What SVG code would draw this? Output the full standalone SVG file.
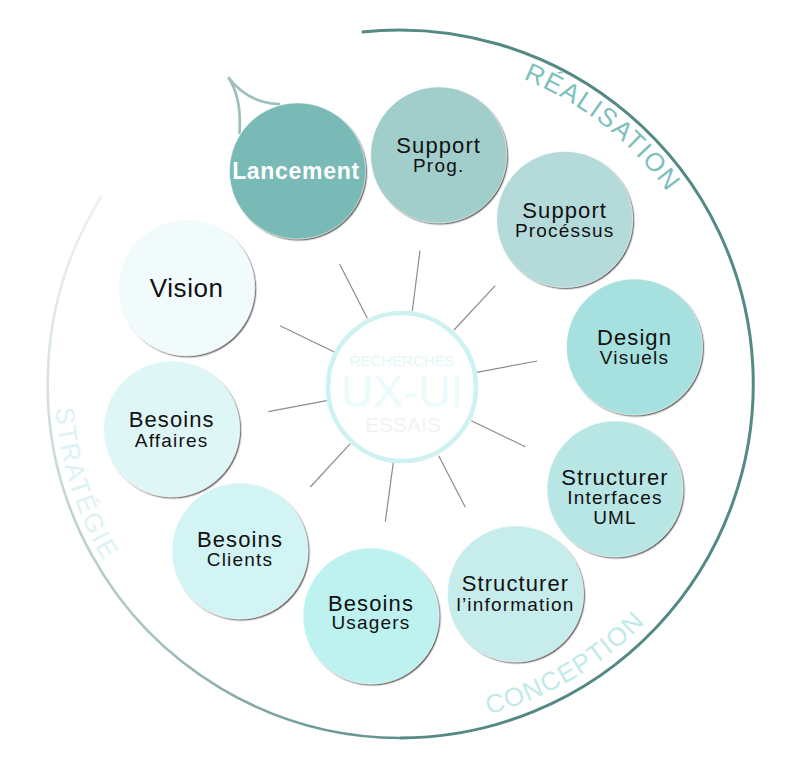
<svg xmlns="http://www.w3.org/2000/svg" xmlns:xlink="http://www.w3.org/1999/xlink" width="800" height="762" viewBox="0 0 800 762">
<style>
.nc{filter:url(#sh);stroke:#ffffff;stroke-opacity:.5;stroke-width:1}
.t1{font-family:"Liberation Sans",Arial,sans-serif;font-size:22px;letter-spacing:1.1px;text-anchor:middle;fill:#111}
.t2{font-family:"Liberation Sans",Arial,sans-serif;font-size:19px;letter-spacing:1.2px;text-anchor:middle;fill:#111}
.ray{stroke:#8c8c8c;stroke-width:1.2;fill:none}
.ring{font-family:"Liberation Sans",Arial,sans-serif;font-size:26px}
</style>
<defs>
<filter id="sh" x="-10%" y="-10%" width="125%" height="125%">
<feDropShadow dx="1.3" dy="1.3" stdDeviation="0.7" flood-color="#333" flood-opacity="0.75"/>
</filter>
<linearGradient id="lg" gradientUnits="userSpaceOnUse" x1="400" y1="740" x2="95" y2="200">
<stop offset="0" stop-color="#5e908c"/>
<stop offset="0.35" stop-color="#aac4c3"/>
<stop offset="1" stop-color="#ecf1f1"/>
</linearGradient>
<path id="pReal" d="M523.2,79 A329,329 0 0 1 698.2,244.9"/>
<path id="pConc" d="M488.5,714.3 A342,342 0 0 0 680.2,580.2"/>
<path id="pStrat" d="M55.8,408.1 A345,345 0 0 0 135.7,605.8"/>
</defs>

<g id="outer-ring">
<path d="M361.7,32 A354,354 0 1 1 400,738" fill="none" stroke="#558985" stroke-width="3"/>
<path d="M400,738 A354,354 0 0 1 101.7,196" fill="none" stroke="url(#lg)" stroke-width="2.6"/>
<text class="ring" fill="#7cbfbb" letter-spacing="1.5"><textPath xlink:href="#pReal" href="#pReal">RÉALISATION</textPath></text>
<text class="ring" fill="#c0eaea" letter-spacing="1.1"><textPath xlink:href="#pConc" href="#pConc">CONCEPTION</textPath></text>
<text class="ring" fill="#dcf2f2" letter-spacing="2"><textPath xlink:href="#pStrat" href="#pStrat">STRATÉGIE</textPath></text>
</g>

<g id="connectors">
<line class="ray" x1="339.7" y1="264.3" x2="367.3" y2="318.3"/>
<line class="ray" x1="420" y1="250.7" x2="412.3" y2="311"/>
<line class="ray" x1="495.3" y1="285.7" x2="454" y2="330"/>
<line class="ray" x1="537.3" y1="361" x2="476.7" y2="372.3"/>
<line class="ray" x1="525.3" y1="446.7" x2="471.3" y2="420.7"/>
<line class="ray" x1="465.3" y1="507.3" x2="438.7" y2="455.7"/>
<line class="ray" x1="385.3" y1="521.7" x2="393.3" y2="462.7"/>
<line class="ray" x1="310.3" y1="487" x2="350.3" y2="443.7"/>
<line class="ray" x1="268.3" y1="411.7" x2="326.7" y2="400.7"/>
<line class="ray" x1="280" y1="325.7" x2="334.3" y2="352"/>
</g>

<g id="center">
<circle cx="402" cy="387" r="74" fill="#ffffff" stroke="#cdf2f1" stroke-width="4.5"/>
<text x="402" y="365.7" font-family="Liberation Sans,Arial,sans-serif" font-size="15" text-anchor="middle" fill="#e3f7f7">RECHERCHES</text>
<text x="402" y="406.7" font-family="Liberation Sans,Arial,sans-serif" font-size="45" text-anchor="middle" fill="#eafbfb">UX-UI</text>
<text x="403" y="431.7" font-family="Liberation Sans,Arial,sans-serif" font-size="21" text-anchor="middle" fill="#f2f2f2">ESSAIS</text>
</g>

<g id="lancement">
<path d="M239.5,133 C241,111 238,92 228.3,77.3 C240,93 255,103 279,104" fill="none" stroke="#9fbfbe" stroke-width="2.7" stroke-linecap="round"/>
<circle class="nc" cx="297.5" cy="171" r="68" fill="#79b9b6"/>
<text x="296" y="178.5" font-family="Liberation Sans,Arial,sans-serif" font-size="23" font-weight="bold" letter-spacing="0.7" text-anchor="middle" fill="#ffffff">Lancement</text>
</g>

<g id="support-prog">
<circle class="nc" cx="438.7" cy="155" r="68" fill="#a1cdcb"/>
<text class="t1" x="438.7" y="153.3">Support</text>
<text class="t2" x="438.7" y="171.7">Prog.</text>
</g>

<g id="support-processus">
<circle class="nc" cx="564.7" cy="219.5" r="68" fill="#b4dad9"/>
<text class="t1" x="564.7" y="217.7">Support</text>
<text class="t2" x="564.7" y="237.3">Procéssus</text>
</g>

<g id="design-visuels">
<circle class="nc" cx="634.5" cy="347" r="68" fill="#a6e1df"/>
<text class="t1" x="634.5" y="345">Design</text>
<text class="t2" x="634.5" y="363.5">Visuels</text>
</g>

<g id="structurer-interfaces">
<circle class="nc" cx="615" cy="489" r="68" fill="#b8e6e5"/>
<text class="t1" x="615" y="485">Structurer</text>
<text class="t2" x="615" y="504">Interfaces</text>
<text class="t2" x="615" y="524">UML</text>
</g>

<g id="structurer-information">
<circle class="nc" cx="515.5" cy="594" r="68" fill="#c6ecec"/>
<text class="t1" x="515.5" y="591">Structurer</text>
<text class="t2" x="515.5" y="610.7">l’information</text>
</g>

<g id="besoins-usagers">
<circle class="nc" cx="371" cy="616" r="68" fill="#bdf2f1"/>
<text class="t1" x="371" y="611">Besoins</text>
<text class="t2" x="371" y="629">Usagers</text>
</g>

<g id="besoins-clients">
<circle class="nc" cx="240" cy="551" r="68" fill="#d2f4f4"/>
<text class="t1" x="240" y="547">Besoins</text>
<text class="t2" x="240" y="566">Clients</text>
</g>

<g id="besoins-affaires">
<circle class="nc" cx="171.7" cy="429" r="68" fill="#dff6f7"/>
<text class="t1" x="171.7" y="427.3">Besoins</text>
<text class="t2" x="171.7" y="447.3">Affaires</text>
</g>

<g id="vision">
<circle class="nc" cx="186.7" cy="287.8" r="68" fill="#f2fbfc"/>
<text x="186.7" y="297.3" font-family="Liberation Sans,Arial,sans-serif" font-size="26" letter-spacing="0.6" text-anchor="middle" fill="#111">Vision</text>
</g>
</svg>
